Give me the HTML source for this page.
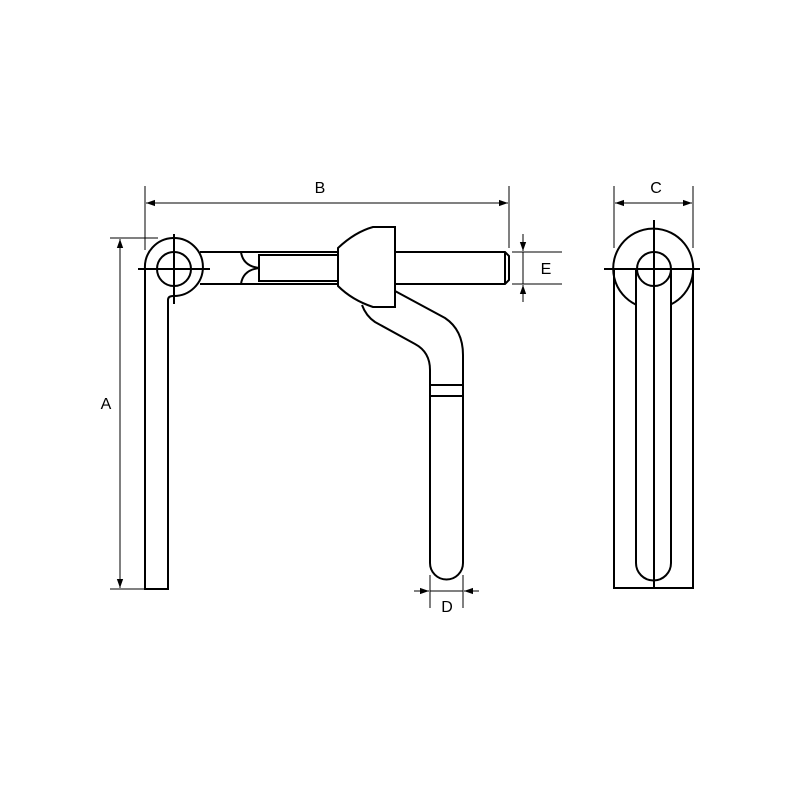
<!DOCTYPE html>
<html><head><style>body{margin:0;background:#fff}svg{display:block}</style></head><body>
<svg width="800" height="800" viewBox="0 0 800 800" xmlns="http://www.w3.org/2000/svg">
<defs>
<marker id="ar" viewBox="0 0 10 10" refX="10" refY="5" markerWidth="9" markerHeight="9" markerUnits="userSpaceOnUse" orient="auto-start-reverse"><path d="M0,1.5 L10,5 L0,8.5Z" fill="#000"/></marker>
</defs>
<g fill="none" stroke="#000" stroke-width="1">
<line x1="145" y1="186" x2="145" y2="250"/>
<line x1="509" y1="186" x2="509" y2="248"/>
<line x1="146" y1="203" x2="508" y2="203" marker-start="url(#ar)" marker-end="url(#ar)"/>
<line x1="110" y1="238" x2="158" y2="238"/>
<line x1="110" y1="589" x2="145" y2="589"/>
<line x1="120" y1="239" x2="120" y2="588" marker-start="url(#ar)" marker-end="url(#ar)"/>
<line x1="614" y1="186" x2="614" y2="248"/>
<line x1="693" y1="186" x2="693" y2="248"/>
<line x1="615" y1="203" x2="692" y2="203" marker-start="url(#ar)" marker-end="url(#ar)"/>
<line x1="512" y1="252" x2="562" y2="252"/>
<line x1="512" y1="284" x2="562" y2="284"/>
<line x1="523" y1="234" x2="523" y2="251" marker-end="url(#ar)"/>
<line x1="523" y1="302" x2="523" y2="285" marker-end="url(#ar)"/>
<line x1="523" y1="252" x2="523" y2="284"/>
<line x1="430" y1="575" x2="430" y2="608"/>
<line x1="463" y1="575" x2="463" y2="608"/>
<line x1="414" y1="591" x2="429" y2="591" marker-end="url(#ar)"/>
<line x1="479" y1="591" x2="464" y2="591" marker-end="url(#ar)"/>
<line x1="430" y1="591" x2="463" y2="591"/>
</g>
<g fill="none" stroke="#000" stroke-width="2">
<path d="M145,269 V589 H168 V300"/>
<path d="M168,300 Q168,296 173,296 A29,29 0 1 0 145,269"/>
<circle cx="174" cy="269" r="17"/>
<line x1="200" y1="252" x2="338" y2="252"/>
<line x1="200" y1="284" x2="338" y2="284"/>
<path d="M241,252 Q243,266 259,268 Q243,270 241,284"/>
<rect x="259" y="255" width="79" height="26"/>
<path d="M338,248 Q355,232 373,227 H395 V307 H373 Q352,300 338,286 Z"/>
<path d="M395,252 H505 L509,256 V280 L505,284 H395"/>
<line x1="505" y1="252" x2="505" y2="284"/>
<path d="M395,291 L445,318 Q463,330 463,355 V563 A16.5,16.5 0 0 1 430,563 V370 Q430,352 415,344 L375,322 Q366,316 362,305"/>
<line x1="430" y1="385" x2="463" y2="385"/>
<line x1="430" y1="396" x2="463" y2="396"/>
<path d="M614,269 V588 H693 V269"/>
<path d="M636,304.7 A40,40 0 1 1 671,304.4"/>
<circle cx="654" cy="269" r="17"/>
<path d="M636,269 V563 A17.5,17.5 0 0 0 671,563 V269"/>
<line x1="654" y1="220" x2="654" y2="588"/>
<line x1="604" y1="269" x2="700" y2="269"/>
<line x1="138" y1="269" x2="210" y2="269"/>
<line x1="174" y1="234" x2="174" y2="304"/>
</g>
<g font-family="Liberation Sans, sans-serif" font-size="16" fill="#000" text-anchor="middle">
<text x="320" y="193">B</text>
<text x="106" y="409">A</text>
<text x="656" y="193">C</text>
<text x="546" y="274">E</text>
<text x="447" y="612">D</text>
</g>
</svg>
</body></html>
